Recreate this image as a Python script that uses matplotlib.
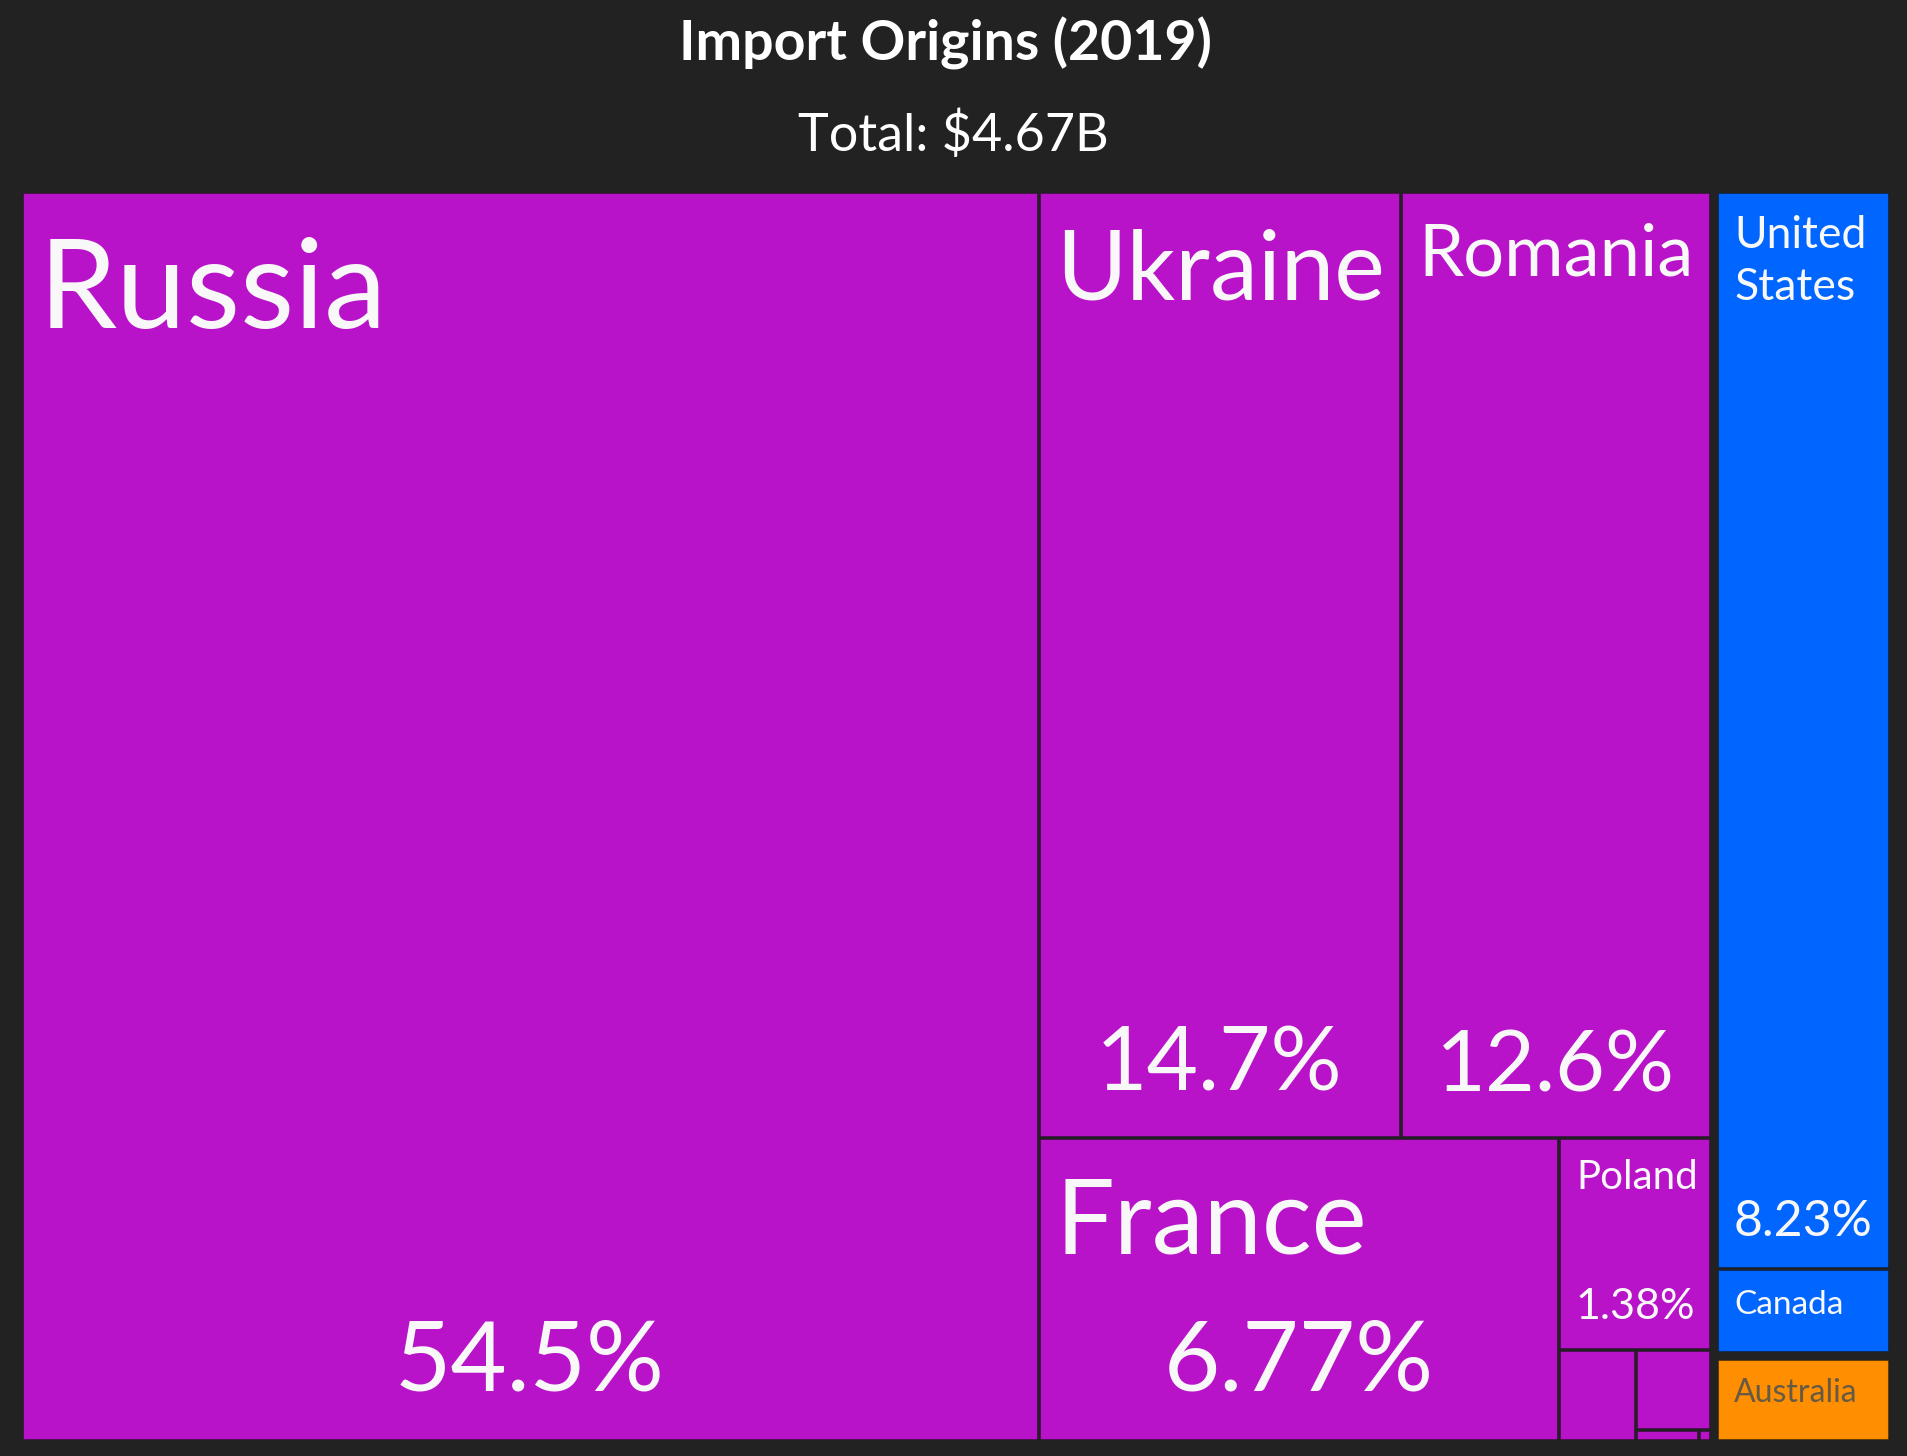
import matplotlib
matplotlib.use("Agg")
import matplotlib.pyplot as plt
from matplotlib.patches import Rectangle

plt.rcParams['font.family'] = ['Lato', 'DejaVu Sans']

title = "Import Origins (2019)"
subtitle = "Total: $4.67B"

regions = ["Europe", "North America", "Oceania"]
region_colors = ["#B913CA", "#0066FF", "#FF8F00"]

countries = ["Russia", "Ukraine", "Romania", "France", "Poland",
             "Other Europe 1", "Other Europe 2", "Other Europe 3", "Other Europe 4",
             "United States", "Canada", "Australia"]
country_region = ["Europe"] * 9 + ["North America"] * 2 + ["Oceania"]
shares = [54.5, 14.7, 12.6, 6.77, 1.38, 0.30, 0.26, 0.03, 0.006, 8.23, 0.64, 0.67]

# text styling per box (font sizes in pt), boxes not listed get no text
label_text = {"United States": "United\nStates"}
label_size = {"Russia": 90, "Ukraine": 69, "Romania": 52, "France": 75, "Poland": 29,
              "United States": 32, "Canada": 24, "Australia": 23}
pct_size = {"Russia": 70, "Ukraine": 64, "Romania": 62, "France": 70, "Poland": 31,
            "United States": 36}
dark_text = {"Australia": "#665a45"}

PHI = (1 + 5 ** 0.5) / 2


def squarify(values, x0, y0, x1, y1, ratio=PHI):
    # same idea as d3.treemapSquarify, values sorted descending
    rects = []
    total = float(sum(values))
    n = len(values)
    i0 = 0
    while i0 < n:
        dx, dy = x1 - x0, y1 - y0
        i1 = i0
        sum_v = values[i1]
        i1 += 1
        min_v = max_v = sum_v
        alpha = max(dy / dx, dx / dy) / (total * ratio)
        beta = sum_v * sum_v * alpha
        min_ratio = max(max_v / beta, beta / min_v)
        while i1 < n:
            v = values[i1]
            s = sum_v + v
            mn, mx = min(min_v, v), max(max_v, v)
            beta = s * s * alpha
            new_ratio = max(mx / beta, beta / mn)
            if new_ratio > min_ratio:
                break
            sum_v, min_v, max_v, min_ratio = s, mn, mx, new_ratio
            i1 += 1
        row = values[i0:i1]
        if dx < dy:
            h = dy * sum_v / total
            x = x0
            for v in row:
                w = dx * v / sum_v
                rects.append((x, y0, x + w, y0 + h))
                x += w
            y0 += h
        else:
            w = dx * sum_v / total
            y = y0
            for v in row:
                h = dy * v / sum_v
                rects.append((x0, y, x0 + w, y + h))
                y += h
            x0 += w
        total -= sum_v
        i0 = i1
    return rects


W, H = 1907, 1456
fig = plt.figure(figsize=(W / 100, H / 100), dpi=100)
fig.patch.set_facecolor('#222222')
ax = fig.add_axes([0, 0, 1, 1])
ax.set_xlim(0, W)
ax.set_ylim(H, 0)
ax.axis('off')

fig.text(0.496, 1 - 61 / H, title, ha='center', va='baseline', color='white',
         fontsize=40, fontweight='bold')
fig.text(0.5, 1 - 151 / H, subtitle, ha='center', va='baseline', color='white',
         fontsize=37.5)

group_totals = [sum(s for s, r in zip(shares, country_region) if r == g) for g in regions]
order = sorted(range(len(regions)), key=lambda i: -group_totals[i])
group_rects = squarify([group_totals[i] for i in order], 18.5, 188.5, 1892.5, 1443.5)

gpad, cpad = 3, 1.5
for gi, (gx0, gy0, gx1, gy1) in zip(order, group_rects):
    gx0, gy0, gx1, gy1 = gx0 + gpad, gy0 + gpad, gx1 - gpad, gy1 - gpad
    idx = [i for i, r in enumerate(country_region) if r == regions[gi]]
    idx.sort(key=lambda i: -shares[i])
    child_rects = squarify([shares[i] for i in idx], gx0, gy0, gx1, gy1)
    for ci, (x0, y0, x1, y1) in zip(idx, child_rects):
        x0, y0, x1, y1 = x0 + cpad, y0 + cpad, x1 - cpad, y1 - cpad
        ax.add_patch(Rectangle((x0, y0), x1 - x0, y1 - y0, facecolor=region_colors[gi],
                               edgecolor=(0, 0, 0, 0.3), linewidth=0.8))
        name = countries[ci]
        col = dark_text.get(name, '#f8f8f8')
        if name in label_size:
            cap = label_size[name] * 100 / 72 * 0.7165
            lines = label_text.get(name, name).split('\n')
            for k, line in enumerate(lines):
                ax.text(x0 + 16, y0 + 10 + 1.4 * cap + k * 1.65 * cap, line,
                        ha='left', va='baseline', color=col, fontsize=label_size[name])
        if name in pct_size:
            cap = pct_size[name] * 100 / 72 * 0.7165
            ax.text((x0 + x1) / 2, y1 - 13.4 - 0.5 * cap, f"{shares[ci]:.3g}%",
                    ha='center', va='baseline', color=col, fontsize=pct_size[name])

fig.savefig('out.png', dpi=100, facecolor=fig.get_facecolor())
